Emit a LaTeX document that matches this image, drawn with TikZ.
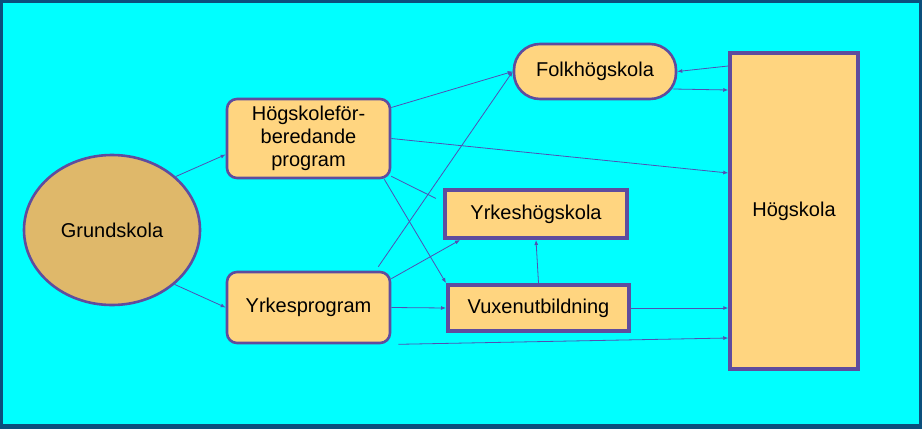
\documentclass[tikz,border=0pt]{standalone}
\usepackage{fontspec}
\setmainfont{Liberation Sans}
\usepackage{tikz}
\usetikzlibrary{arrows.meta,shapes.geometric}

\definecolor{bgcyan}{HTML}{00FFFF}
\definecolor{framecol}{HTML}{0B4F7C}
\definecolor{boxfill}{HTML}{FFD580}
\definecolor{gsfill}{HTML}{DFB86A}
\definecolor{edgecol}{HTML}{5F4C9E}
\definecolor{flowcol}{HTML}{5050B4}

\tikzset{
  box/.style={draw=edgecol, fill=boxfill, line width=2.6pt, align=center,
    font=\fontsize{20}{23}\selectfont},
  flow/.style={-{Latex[length=5pt,width=4pt]}, draw=flowcol, line width=0.8pt},
  link/.style={draw=flowcol, line width=0.8pt},
}

\begin{document}
\begin{tikzpicture}[x=1pt,y=-1pt]
  \fill[framecol] (0,0) rectangle (922,429);
  \fill[bgcyan] (3,3) rectangle (919,424);
  \useasboundingbox (0,0) rectangle (922,429);

  \node[box, ellipse, fill=gsfill, minimum width=176pt, minimum height=150pt] (gs) at (112,230) {Grundskola};
  \node[box, rounded corners=10pt, minimum width=163pt, minimum height=79pt] (hfp) at (308.5,138.5) {Högskoleför-\\beredande\\program};
  \node[box, rounded corners=10pt, minimum width=163pt, minimum height=71pt] (yp) at (308.5,307.5) {Yrkesprogram};
  \node[box, rounded corners=26pt, minimum width=162pt, minimum height=55pt] (fhs) at (595,71.5) {Folkhögskola};
  \node[box, line width=4pt, minimum width=182pt, minimum height=48pt] (yhs) at (536,214) {Yrkeshögskola};
  \node[box, line width=4pt, minimum width=181pt, minimum height=46pt] (vux) at (538.5,308) {Vuxenutbildning};
  \node[box, line width=3.5pt, minimum width=128pt, minimum height=316pt] (hs) at (794,211) {Högskola};

  \draw[flow] (gs.40) -- ([yshift=-16pt]hfp.west);
  \draw[flow] (gs.-41) -- (yp.west);
  \draw[flow] ([yshift=31pt]hfp.east) -- (fhs.west);
  \draw[flow] (hfp.east) -- ([yshift=38pt]hs.west);
  \draw[flow] ([xshift=-7pt]hfp.south east) -- (vux.north west);
  \draw[link, shorten >=8pt] ([yshift=3pt]hfp.south east) -- ([yshift=-14pt]yhs.north west);
  \draw[flow] ([xshift=-13pt,yshift=4pt]yp.north east) -- (fhs.west);
  \draw[flow] ([yshift=-8pt]yp.north east) -- ([xshift=17pt]yhs.south west);
  \draw[flow] (yp.east) -- (vux.west);
  \draw[flow] ([xshift=7pt]yp.south east) -- ([yshift=-127pt]hs.west);
  \draw[flow] (vux.north) -- (yhs.south);
  \draw[flow] (vux.east) -- ([yshift=-97pt]hs.west);
  \draw[flow] ([xshift=-4pt,yshift=-17.5pt]fhs.east) -- ([yshift=121pt]hs.west);
  \draw[flow] ([yshift=145pt]hs.west) -- (fhs.east);
\end{tikzpicture}
\end{document}
